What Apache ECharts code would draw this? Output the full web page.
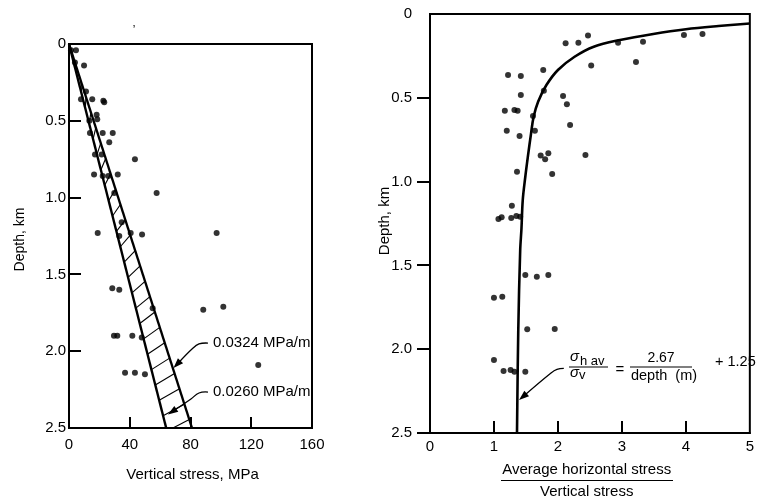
<!DOCTYPE html>
<html><head><meta charset="utf-8">
<script src="https://cdn.jsdelivr.net/npm/echarts@6/dist/echarts.min.js"></script>
<style>html,body{margin:0;padding:0;background:#fff}#c{width:757px;height:503px}</style>
</head><body><div id="c"></div>
<script>
const FONT = '"Liberation Sans", Arial, sans-serif';

// ---- Left panel: vertical stress vs depth ----
const stressTicks = [0, 40, 80, 120, 160];
const depthTicks = [0, 0.5, 1.0, 1.5, 2.0, 2.5];
const depthTickLabels = ['0', '0.5', '1.0', '1.5', '2.0', '2.5'];
const gradient0260 = [[0, 0], [64, 2.5]];   // 0.0260 MPa/m
const gradient0324 = [[0, 0], [81, 2.5]];   // 0.0324 MPa/m
const verticalStressPoints = [
  [1.3,0.04],[4.6,0.04],[3.9,0.12],[9.9,0.14],[11.2,0.31],[7.9,0.36],[15.3,0.36],[22.6,0.37],
  [23.2,0.38],[18.2,0.46],[18.6,0.49],[13.4,0.50],[13.8,0.58],[22.2,0.58],[28.8,0.58],[26.5,0.64],
  [17.1,0.72],[21.5,0.72],[43.4,0.75],[16.5,0.85],[22.2,0.86],[25.9,0.86],[32.1,0.85],[29.8,0.97],
  [57.7,0.97],[34.7,1.16],[18.9,1.23],[33.1,1.25],[40.6,1.23],[48.1,1.24],[97.2,1.23],[28.5,1.59],
  [33.1,1.60],[55.1,1.72],[88.4,1.73],[101.6,1.71],[29.6,1.90],[31.8,1.90],[41.7,1.90],[47.9,1.91],
  [124.6,2.09],[36.9,2.14],[43.4,2.14],[50.0,2.15]
];

// ---- Right panel: stress ratio vs depth ----
const ratioTicks = [0, 1, 2, 3, 4, 5];
const stressRatioPoints = [
  [1.22,0.364],[1.42,0.370],[1.42,0.483],[1.17,0.577],[1.32,0.573],[1.37,0.577],[1.61,0.609],
  [1.77,0.334],[1.78,0.458],[2.12,0.175],[2.32,0.171],[2.47,0.129],[2.08,0.489],[2.14,0.539],
  [2.52,0.308],[2.94,0.171],[3.33,0.165],[3.22,0.286],[3.97,0.125],[4.26,0.119],[1.20,0.696],
  [1.40,0.728],[1.64,0.696],[2.19,0.662],[1.73,0.845],[1.85,0.831],[1.80,0.867],[2.43,0.841],
  [1.36,0.941],[1.91,0.955],[1.28,1.144],[1.07,1.223],[1.12,1.213],[1.27,1.217],[1.35,1.205],
  [1.41,1.209],[1.49,1.557],[1.67,1.567],[1.85,1.557],[1.00,1.693],[1.13,1.687],[1.52,1.881],
  [1.95,1.879],[1.00,2.064],[1.15,2.130],[1.26,2.124],[1.32,2.134],[1.49,2.134]
];
const fitCurve = [
  [5.0,0.057],[4.51,0.072],[4.0,0.091],[3.49,0.119],[2.97,0.155],[2.56,0.195],[2.26,0.255],
  [2.0,0.334],[1.82,0.424],[1.69,0.523],[1.62,0.613],[1.58,0.712],[1.53,0.851],[1.49,0.971],
  [1.45,1.11],[1.43,1.28],[1.41,1.41],[1.38,1.885],[1.36,2.5]
];

const chart = echarts.init(document.getElementById('c'), null, {renderer: 'canvas'});

function valAt(line, d) {
  const [a, b] = line;
  return a[0] + (b[0] - a[0]) * (d - a[1]) / (b[1] - a[1]);
}

const axisLineStyle = {show: true, onZero: false, lineStyle: {color: '#000', width: 2}};
const labelBase = {show: true, color: '#000', fontSize: 15, fontFamily: FONT};

function mkLine(a, b, w) {
  return {type: 'polyline', shape: {points: [[a[0], a[1]], [b[0], b[1]]]}, style: {stroke: '#000', lineWidth: w, fill: null}};
}
function mkRect(x, y, w, h) {
  return {type: 'rect', shape: {x: x, y: y, width: w, height: h}, style: {fill: '#000', stroke: null}};
}

// one custom series per panel: hatching (left only) + tick marks, all through api.coord
function panelDecor(gi, xTicks, yTicks, xLen, yLen, hatch) {
  return {
    type: 'custom', xAxisIndex: gi, yAxisIndex: gi, data: [[0, 0]], silent: true, z: 5,
    renderItem: function (params, api) {
      const children = [];
      if (hatch) {
        const delta = 0.075;
        for (let i = 0; i < 24; i++) {
          const d = 0.32 + i * 0.1;
          const d2 = d - delta;
          const p1 = [valAt(gradient0260, d), d];
          const p2 = [valAt(gradient0324, d2), d2];
          let s = p1;
          if (d > 2.5) {
            const t = (d - 2.5) / delta;
            if (t >= 1) continue;
            s = [p1[0] + (p2[0] - p1[0]) * t, 2.5];
          }
          children.push(mkLine(api.coord(s), api.coord(p2), 1.1));
        }
      }
      xTicks.forEach(v => {
        const p = api.coord([v, 2.5]);
        children.push(mkRect(Math.round(p[0]) - 1, p[1] - xLen, 2, xLen));
      });
      yTicks.forEach(v => {
        const p = api.coord([0, v]);
        if (yLen > 0) children.push(mkRect(p[0], Math.round(p[1]) - 1, yLen, 2));
        else children.push(mkRect(p[0] + yLen, Math.round(p[1]) - 1, -yLen, 2));
      });
      return {type: 'group', children: children};
    }
  };
}

const option = {
  animation: false,
  backgroundColor: '#fff',
  grid: [
    {left: 69, top: 44, width: 243, height: 384, show: true, borderColor: '#000', borderWidth: 2, backgroundColor: 'transparent'},
    {left: 430, top: 14, width: 325, height: 419, show: true, borderColor: '#000', borderWidth: 2, backgroundColor: 'transparent'}
  ],
  xAxis: [
    {type: 'value', gridIndex: 0, position: 'bottom', min: stressTicks[0], max: stressTicks[stressTicks.length - 1],
     interval: stressTicks[1] - stressTicks[0],
     axisLine: axisLineStyle, axisTick: {show: false},
     axisLabel: Object.assign({margin: 9}, labelBase), splitLine: {show: false}},
    {type: 'value', gridIndex: 1, position: 'bottom', min: ratioTicks[0], max: ratioTicks[ratioTicks.length - 1],
     interval: ratioTicks[1] - ratioTicks[0],
     axisLine: axisLineStyle, axisTick: {show: false},
     axisLabel: Object.assign({margin: 6, showMaxLabel: true}, labelBase), splitLine: {show: false}}
  ],
  yAxis: [
    {type: 'value', gridIndex: 0, position: 'left', inverse: true, min: 0, max: 2.5, interval: 0.5,
     axisLine: axisLineStyle, axisTick: {show: false},
     axisLabel: Object.assign({margin: 3, formatter: v => depthTickLabels[Math.round(v / 0.5)]}, labelBase),
     splitLine: {show: false}},
    {type: 'value', gridIndex: 1, position: 'left', inverse: true, min: 0, max: 2.5, interval: 0.5,
     axisLine: axisLineStyle, axisTick: {show: false},
     axisLabel: Object.assign({margin: 18, formatter: v => depthTickLabels[Math.round(v / 0.5)]}, labelBase),
     splitLine: {show: false}}
  ],
  series: [
    panelDecor(0, stressTicks.slice(1, -1), depthTicks.slice(1, -1), 11, 12, true),
    panelDecor(1, ratioTicks.slice(1, -1), depthTicks.slice(1), 12, -13, false),
    {type: 'line', xAxisIndex: 0, yAxisIndex: 0, data: gradient0260, symbol: 'none', z: 3,
     lineStyle: {color: '#000', width: 2.4}},
    {type: 'line', xAxisIndex: 0, yAxisIndex: 0, data: gradient0324, symbol: 'none', z: 3,
     lineStyle: {color: '#000', width: 2.4}},
    {type: 'scatter', xAxisIndex: 0, yAxisIndex: 0, data: verticalStressPoints, symbolSize: 6, z: 4,
     itemStyle: {color: '#000'}},
    {type: 'line', xAxisIndex: 1, yAxisIndex: 1, data: fitCurve, symbol: 'none', smooth: 0.35, z: 3,
     lineStyle: {color: '#000', width: 2.6}},
    {type: 'scatter', xAxisIndex: 1, yAxisIndex: 1, data: stressRatioPoints, symbolSize: 6, z: 4,
     itemStyle: {color: '#000'}}
  ]
};
chart.setOption(option);

// ---- annotations (anchored in data space) ----
function px(gi, pt) { return chart.convertToPixel({xAxisIndex: gi, yAxisIndex: gi}, pt); }
function seg(a, b, w) {
  return {type: 'line', shape: {x1: a[0], y1: a[1], x2: b[0], y2: b[1]}, style: {stroke: '#000', lineWidth: w || 1.5}, z: 10};
}
function arrow(gi, pts) {
  const p = pts.map(q => px(gi, q));
  const tip = p[p.length - 1], prev = p[p.length - 2];
  let ux = tip[0] - prev[0], uy = tip[1] - prev[1];
  const L = Math.hypot(ux, uy); ux /= L; uy /= L;
  const hl = 10, hw = 3.6;
  const bx = tip[0] - ux * hl, by = tip[1] - uy * hl;
  const line = p.slice(0, -1).concat([[bx + ux * 2, by + uy * 2]]);
  return [
    {type: 'polyline', shape: {points: line, smooth: 0.4}, style: {stroke: '#000', lineWidth: 1.3, fill: null}, z: 10},
    {type: 'polygon', shape: {points: [tip, [bx - uy * hw, by + ux * hw], [bx + uy * hw, by - ux * hw]]},
     style: {fill: '#000'}, z: 10}
  ];
}
function txt(x, y, text, opts) {
  return Object.assign({type: 'text', x: x, y: y, z: 10,
    style: Object.assign({text: text, fill: '#000', font: '15px ' + FONT, align: 'left', verticalAlign: 'middle'}, opts || {})});
}

const g = [];
// left panel labels + arrows
const l1 = px(0, [94.8, 1.947]);
const l2 = px(0, [94.8, 2.266]);
g.push(txt(l1[0], l1[1], '0.0324 MPa/m'));
g.push(txt(l2[0], l2[1], '0.0260 MPa/m'));
g.push(...arrow(0, [[91.5, 1.947], [85.6, 1.953], [81.0, 1.986], [68.8, 2.109]]));
g.push(...arrow(0, [[91.5, 2.266], [85.6, 2.272], [80.3, 2.311], [65.2, 2.412]]));
// right panel arrow
g.push(...arrow(1, [[2.092, 2.115], [1.985, 2.121], [1.892, 2.142], [1.392, 2.303]]));

// equation
g.push(txt(570, 357, 'σ', {font: 'italic 15px ' + FONT}));
g.push(txt(580, 361, 'h av', {font: '13px ' + FONT}));
g.push(seg([569, 367], [608, 367], 1.1));
g.push(txt(570, 372.5, 'σ', {font: 'italic 15px ' + FONT}));
g.push(txt(579, 375, 'v', {font: '13px ' + FONT}));
g.push(txt(620, 369.5, '=', {align: 'center'}));
g.push(txt(661, 358, '2.67', {align: 'center', font: '14px ' + FONT}));
g.push(seg([630, 367], [692, 367], 1.1));
g.push(txt(664, 376, 'depth  (m)', {align: 'center', font: '14.5px ' + FONT}));
g.push(txt(715, 362, '+ 1.25', {font: '14.5px ' + FONT}));

// axis titles
g.push(Object.assign(txt(20, 239.5, 'Depth, km', {align: 'center', font: '14px ' + FONT}), {rotation: Math.PI / 2}));
g.push(Object.assign(txt(385, 221, 'Depth, km', {align: 'center', font: '15px ' + FONT}), {rotation: Math.PI / 2}));
g.push(txt(192.5, 475, 'Vertical stress, MPa', {align: 'center'}));
g.push(txt(586.7, 469.5, 'Average horizontal stress', {align: 'center'}));
g.push(seg([501, 480.5], [673, 480.5], 1.2));
g.push(txt(586.7, 491.5, 'Vertical stress', {align: 'center'}));
// stray scan mark
g.push(txt(134, 31, 'ʼ', {align: 'center', font: '12px ' + FONT}));

chart.setOption({graphic: {elements: g}});
</script></body></html>
